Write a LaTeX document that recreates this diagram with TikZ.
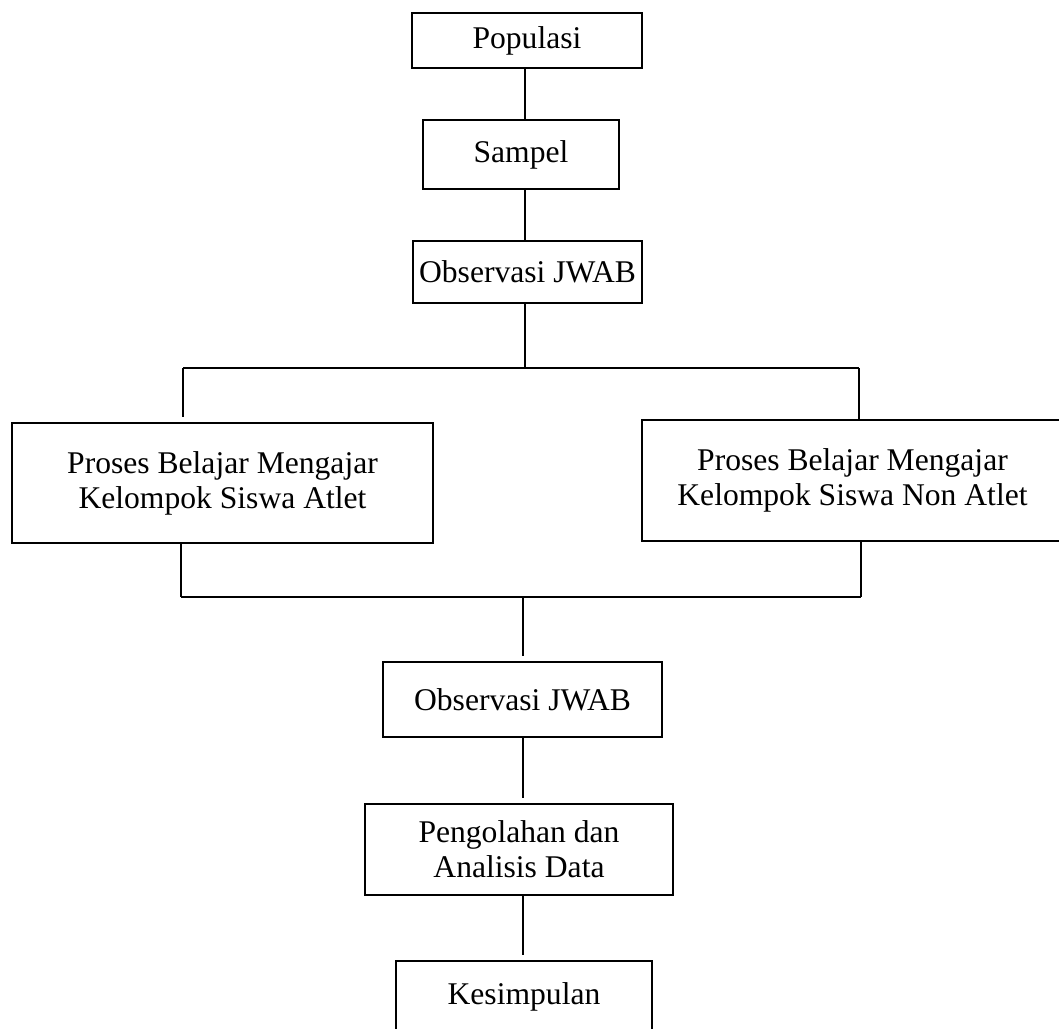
\documentclass[tikz,border=0pt]{standalone}
\usepackage{fontspec}
\setmainfont{Liberation Serif}
\begin{document}
\begin{tikzpicture}[x=1pt,y=-1pt,line width=1.8pt,
    box/.style={draw,rectangle,align=center,inner sep=0pt,font=\fontsize{31.6}{35}\selectfont},
    gap/.style={shorten >=5pt}]
    \useasboundingbox (0,0) rectangle (1059,1028);
    \node[box,minimum width=230pt,minimum height=55pt] (pop) at (527,40.5) {Populasi};
    \node[box,minimum width=196pt,minimum height=69pt] (samp) at (521,154.5) {Sampel};
    \node[box,minimum width=229pt,minimum height=62pt] (obs1) at (527.5,272) {Observasi JWAB};
    \node[box,minimum width=421pt,minimum height=120pt] (atlet) at (222.5,483) {Proses Belajar Mengajar\\Kelompok Siswa Atlet};
    \node[box,minimum width=421pt,minimum height=121pt] (nonatlet) at (852.5,480.5) {Proses Belajar Mengajar\\Kelompok Siswa Non Atlet};
    \node[box,minimum width=279pt,minimum height=75pt] (obs2) at (522.5,699.5) {Observasi JWAB};
    \node[box,minimum width=308pt,minimum height=91pt] (olah) at (519,849.5) {Pengolahan dan\\Analisis Data};
    \node[box,minimum width=256pt,minimum height=72pt] (simp) at (524,997) {Kesimpulan};
    % junctions
    \coordinate (spine) at (525,368);
    \coordinate (jl) at (183,368);
    \coordinate (jr) at (859,368);
    \coordinate (bl) at (181,597);
    \coordinate (br) at (861,597);
    \coordinate (jb) at (523,597);
    % connectors
    \draw (pop.south -| spine) -- (samp.north -| spine);
    \draw (samp.south -| spine) -- (obs1.north -| spine);
    \draw (obs1.south -| spine) -- (spine);
    \draw (jl) -- (jr);
    \draw[gap] (jl) -- (jl |- atlet.north);
    \draw (jr) -- (jr |- nonatlet.north);
    \draw (bl |- atlet.south) -- (bl);
    \draw (br |- nonatlet.south) -- (br);
    \draw (bl) -- (br);
    \draw[gap] (jb) -- (jb |- obs2.north);
    \draw[gap] (obs2.south -| jb) -- (olah.north -| jb);
    \draw[gap] (olah.south -| jb) -- (simp.north -| jb);
\end{tikzpicture}
\end{document}
